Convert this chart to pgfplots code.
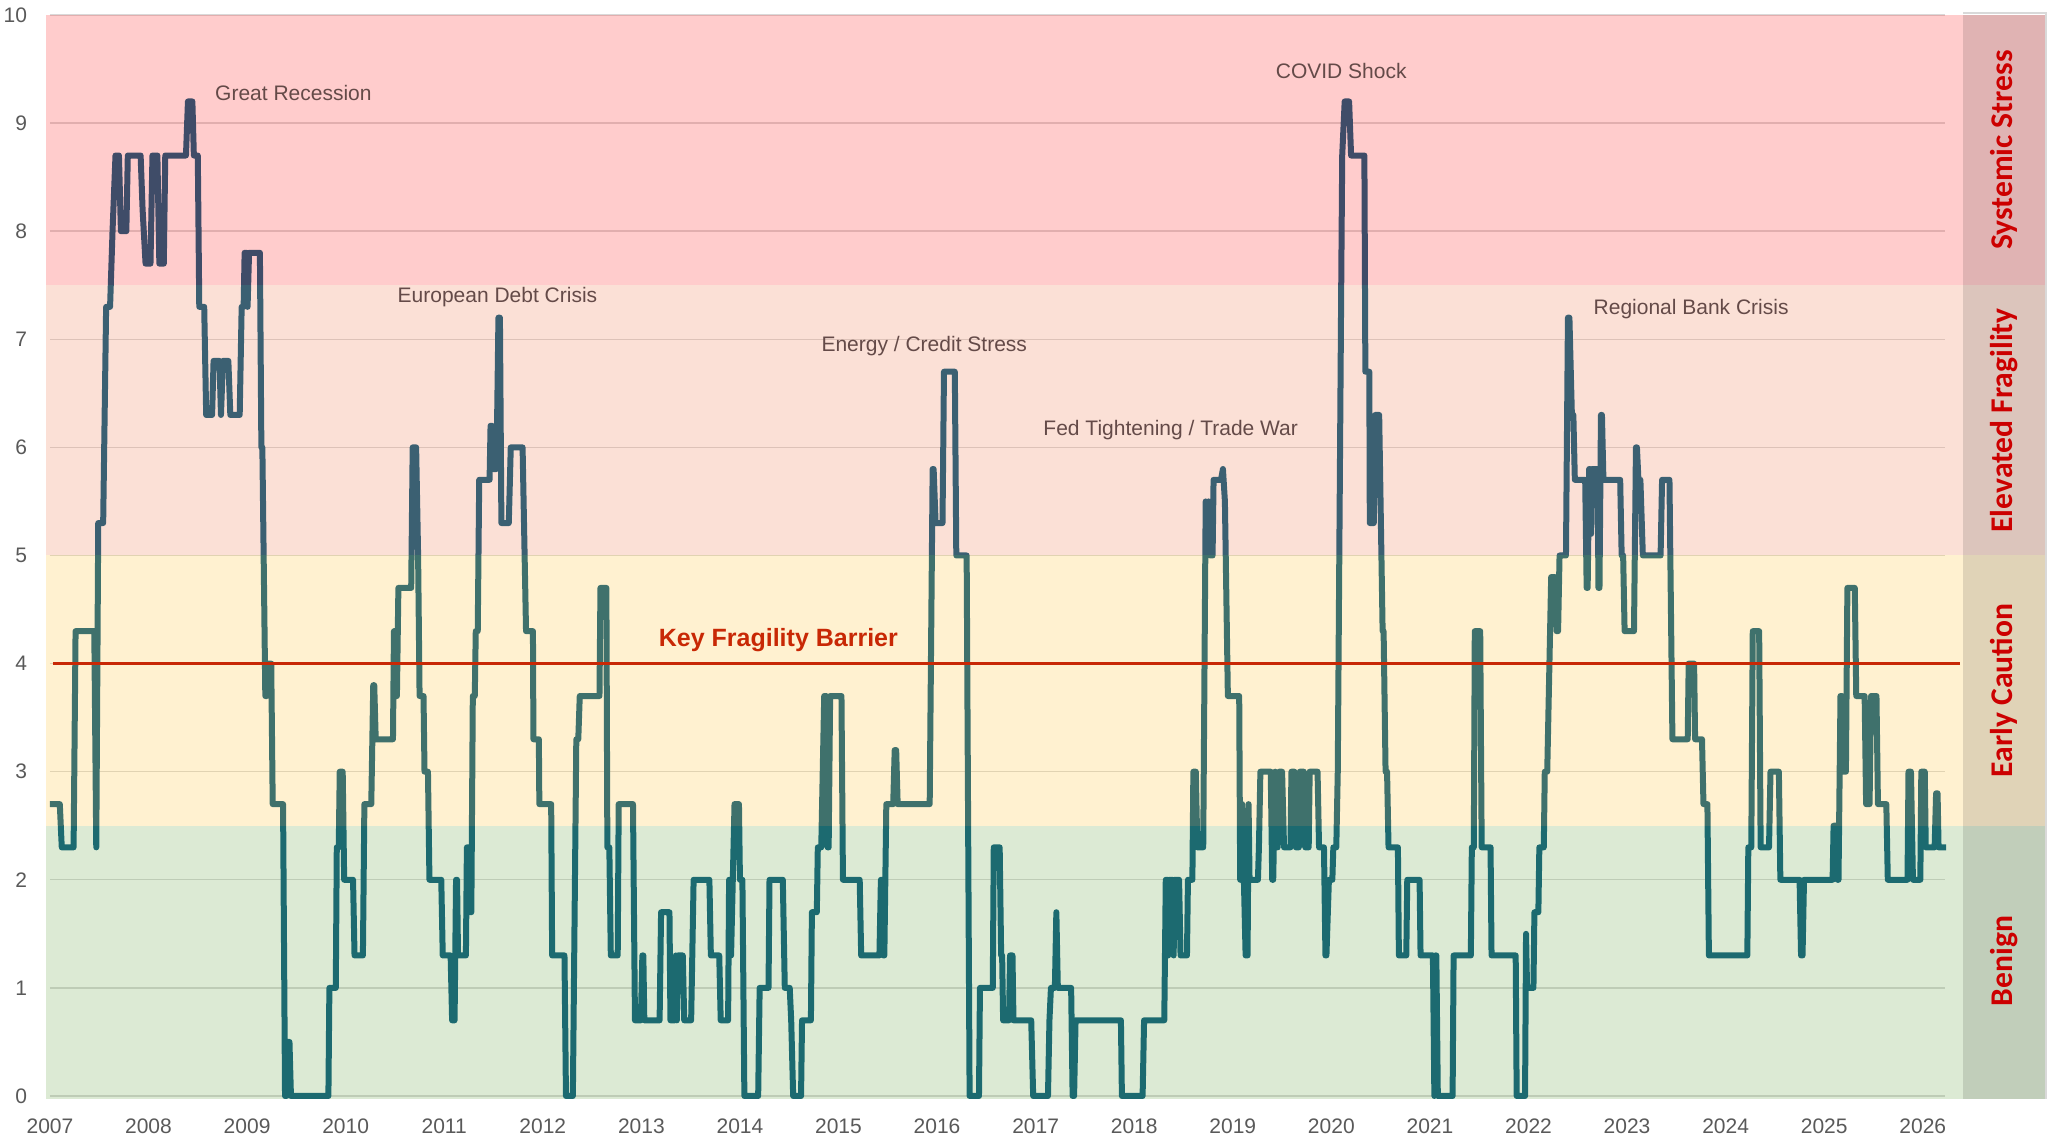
\documentclass[border=0pt]{standalone}
\usepackage{fontspec}
\setmainfont{Liberation Sans}
\newfontfamily\calib{Carlito}
\usepackage{pgfplots}
\usepackage{pgfplotstable}
\pgfplotsset{compat=1.18}
\definecolor{lineblue}{RGB}{10,92,127}
\definecolor{ovRed}{RGB}{255,23,23}
\definecolor{ovOrange}{RGB}{237,114,69}
\definecolor{ovAmber}{RGB}{255,191,41}
\definecolor{ovGreen}{RGB}{96,160,60}
\definecolor{gridg}{RGB}{217,217,217}
\definecolor{barrier}{RGB}{200,40,5}
\definecolor{zonered}{RGB}{204,0,0}
\definecolor{annot}{RGB}{100,74,72}
\definecolor{tickgray}{RGB}{89,89,89}

\pgfplotstableread{
x y
2007.00 2.7
2007.10 2.7
2007.12 2.3
2007.24 2.3
2007.26 4.3
2007.45 4.3
2007.47 2.3
2007.49 5.3
2007.54 5.3
2007.57 7.3
2007.61 7.3
2007.635 8.0
2007.665 8.7
2007.70 8.7
2007.72 8.0
2007.775 8.0
2007.79 8.7
2007.92 8.7
2007.94 8.2
2007.97 7.7
2008.02 7.7
2008.04 8.7
2008.09 8.7
2008.11 7.7
2008.155 7.7
2008.17 8.7
2008.38 8.7
2008.40 9.2
2008.445 9.2
2008.46 8.7
2008.50 8.7
2008.515 7.3
2008.565 7.3
2008.585 6.3
2008.645 6.3
2008.66 6.8
2008.72 6.8
2008.735 6.3
2008.755 6.8
2008.81 6.8
2008.83 6.3
2008.925 6.3
2008.945 7.3
2008.965 7.3
2008.975 7.8
2008.995 7.8
2009.005 7.3
2009.02 7.8
2009.13 7.8
2009.145 6.0
2009.155 6.0
2009.185 3.7
2009.20 3.7
2009.21 4.0
2009.245 4.0
2009.26 2.7
2009.365 2.7
2009.385 0.0
2009.40 0.0
2009.41 0.5
2009.43 0.5
2009.445 0.0
2009.825 0.0
2009.835 1.0
2009.90 1.0
2009.91 2.3
2009.93 2.3
2009.94 3.0
2009.97 3.0
2009.985 2.0
2010.075 2.0
2010.09 1.3
2010.175 1.3
2010.19 2.7
2010.26 2.7
2010.28 3.8
2010.29 3.8
2010.305 3.3
2010.48 3.3
2010.49 4.3
2010.50 4.3
2010.51 3.7
2010.52 3.7
2010.535 4.7
2010.665 4.7
2010.68 6.0
2010.715 6.0
2010.735 5.0
2010.75 3.7
2010.79 3.7
2010.80 3.0
2010.835 3.0
2010.85 2.0
2010.97 2.0
2010.985 1.3
2011.065 1.3
2011.08 0.7
2011.105 0.7
2011.12 2.0
2011.13 2.0
2011.14 1.3
2011.22 1.3
2011.23 2.3
2011.255 2.3
2011.265 1.7
2011.275 1.7
2011.29 3.7
2011.31 3.7
2011.32 4.3
2011.34 4.3
2011.355 5.7
2011.46 5.7
2011.47 6.2
2011.485 6.2
2011.495 5.8
2011.53 5.8
2011.55 7.2
2011.565 7.2
2011.58 5.3
2011.655 5.3
2011.675 6.0
2011.795 6.0
2011.83 4.3
2011.90 4.3
2011.905 3.3
2011.96 3.3
2011.965 2.7
2012.085 2.7
2012.095 1.3
2012.22 1.3
2012.235 0.0
2012.305 0.0
2012.34 3.3
2012.36 3.3
2012.375 3.7
2012.575 3.7
2012.585 4.7
2012.645 4.7
2012.655 2.3
2012.675 2.3
2012.69 1.3
2012.76 1.3
2012.77 2.7
2012.915 2.7
2012.935 0.7
2012.995 0.7
2013.01 1.3
2013.02 1.3
2013.03 0.7
2013.185 0.7
2013.20 1.7
2013.285 1.7
2013.295 0.7
2013.34 0.7
2013.35 1.3
2013.36 0.7
2013.37 1.3
2013.42 1.3
2013.435 0.7
2013.505 0.7
2013.53 2.0
2013.69 2.0
2013.705 1.3
2013.79 1.3
2013.805 0.7
2013.88 0.7
2013.89 2.0
2013.90 1.3
2013.91 1.3
2013.945 2.7
2013.99 2.7
2014.00 2.0
2014.025 2.0
2014.045 0.0
2014.185 0.0
2014.20 1.0
2014.29 1.0
2014.30 2.0
2014.435 2.0
2014.455 1.0
2014.505 1.0
2014.52 0.7
2014.54 0.0
2014.62 0.0
2014.63 0.7
2014.72 0.7
2014.73 1.7
2014.78 1.7
2014.79 2.3
2014.825 2.3
2014.855 3.7
2014.875 3.7
2014.89 2.3
2014.90 2.3
2014.915 3.7
2015.03 3.7
2015.045 2.0
2015.215 2.0
2015.23 1.3
2015.415 1.3
2015.43 2.0
2015.44 2.0
2015.455 1.3
2015.465 1.3
2015.485 2.7
2015.555 2.7
2015.57 3.2
2015.585 3.2
2015.60 2.7
2015.925 2.7
2015.955 5.8
2015.965 5.8
2015.985 5.3
2016.055 5.3
2016.07 6.7
2016.18 6.7
2016.195 5.0
2016.30 5.0
2016.33 0.0
2016.425 0.0
2016.435 1.0
2016.565 1.0
2016.575 2.3
2016.635 2.3
2016.65 1.3
2016.66 1.3
2016.67 0.7
2016.73 0.7
2016.74 1.3
2016.765 1.3
2016.775 0.7
2016.955 0.7
2016.975 0.0
2017.125 0.0
2017.14 0.7
2017.155 1.0
2017.195 1.0
2017.21 1.7
2017.225 1.0
2017.36 1.0
2017.375 0.0
2017.39 0.0
2017.405 0.7
2017.865 0.7
2017.875 0.0
2018.085 0.0
2018.10 0.7
2018.305 0.7
2018.32 2.0
2018.335 2.0
2018.345 1.3
2018.355 2.0
2018.39 2.0
2018.40 1.3
2018.41 2.0
2018.455 2.0
2018.47 1.3
2018.535 1.3
2018.545 2.0
2018.59 2.0
2018.60 3.0
2018.625 3.0
2018.64 2.3
2018.70 2.3
2018.725 5.5
2018.74 5.0
2018.755 5.5
2018.77 5.0
2018.795 5.0
2018.805 5.7
2018.88 5.7
2018.90 5.8
2018.92 5.5
2018.95 3.7
2019.065 3.7
2019.075 2.0
2019.085 2.7
2019.095 2.7
2019.13 1.3
2019.15 1.3
2019.16 2.7
2019.17 2.0
2019.255 2.0
2019.265 2.3
2019.28 3.0
2019.385 3.0
2019.40 2.0
2019.41 2.0
2019.43 3.0
2019.455 2.3
2019.47 3.0
2019.50 3.0
2019.52 2.3
2019.585 2.3
2019.595 3.0
2019.625 3.0
2019.64 2.3
2019.67 2.3
2019.68 3.0
2019.72 3.0
2019.735 2.3
2019.77 2.3
2019.78 3.0
2019.86 3.0
2019.875 2.3
2019.925 2.3
2019.94 1.3
2019.95 1.3
2019.975 2.0
2020.01 2.0
2020.02 2.3
2020.05 2.3
2020.065 3.0
2020.10 7.5
2020.11 8.7
2020.135 9.2
2020.18 9.2
2020.20 8.7
2020.335 8.7
2020.345 6.7
2020.385 6.7
2020.39 5.3
2020.43 5.3
2020.445 6.3
2020.485 6.3
2020.52 4.3
2020.53 4.3
2020.55 3.0
2020.565 3.0
2020.58 2.3
2020.675 2.3
2020.685 1.3
2020.76 1.3
2020.77 2.0
2020.895 2.0
2020.905 1.3
2021.03 1.3
2021.045 0.0
2021.055 1.3
2021.065 1.3
2021.08 0.0
2021.23 0.0
2021.24 1.3
2021.415 1.3
2021.425 2.3
2021.445 2.3
2021.455 4.3
2021.51 4.3
2021.525 2.3
2021.615 2.3
2021.625 1.3
2021.87 1.3
2021.88 0.0
2021.965 0.0
2021.975 1.5
2021.985 1.0
2022.05 1.0
2022.06 1.7
2022.10 1.7
2022.11 2.3
2022.155 2.3
2022.165 3.0
2022.19 3.0
2022.23 4.8
2022.27 4.8
2022.285 4.3
2022.30 4.3
2022.315 5.0
2022.38 5.0
2022.40 7.2
2022.415 7.2
2022.44 6.3
2022.455 6.3
2022.47 5.7
2022.575 5.7
2022.59 4.7
2022.60 4.7
2022.615 5.8
2022.625 5.8
2022.635 5.2
2022.645 5.8
2022.70 5.8
2022.71 4.7
2022.72 4.7
2022.735 6.3
2022.745 6.3
2022.76 5.7
2022.93 5.7
2022.945 5.0
2022.96 5.0
2022.975 4.3
2023.07 4.3
2023.09 6.0
2023.10 6.0
2023.115 5.7
2023.135 5.7
2023.16 5.0
2023.34 5.0
2023.355 5.7
2023.43 5.7
2023.46 3.3
2023.615 3.3
2023.625 4.0
2023.68 4.0
2023.69 3.3
2023.76 3.3
2023.775 2.7
2023.815 2.7
2023.83 1.3
2024.22 1.3
2024.23 2.3
2024.26 2.3
2024.275 4.3
2024.34 4.3
2024.355 2.3
2024.44 2.3
2024.455 3.0
2024.54 3.0
2024.555 2.0
2024.75 2.0
2024.765 1.3
2024.78 1.3
2024.795 2.0
2025.085 2.0
2025.095 2.5
2025.12 2.5
2025.135 2.0
2025.145 2.0
2025.165 3.7
2025.18 3.7
2025.19 3.0
2025.22 3.0
2025.235 4.7
2025.31 4.7
2025.325 3.7
2025.41 3.7
2025.425 2.7
2025.46 2.7
2025.475 3.7
2025.53 3.7
2025.545 2.7
2025.63 2.7
2025.645 2.0
2025.845 2.0
2025.855 3.0
2025.88 3.0
2025.90 2.0
2025.975 2.0
2025.985 3.0
2026.02 3.0
2026.03 2.3
2026.12 2.3
2026.135 2.8
2026.15 2.8
2026.16 2.3
2026.236 2.3
}\fragility

\begin{document}
\begin{tikzpicture}
\useasboundingbox (0,0) rectangle (1024.5pt,572pt);
\begin{axis}[
  at={(23pt,24pt)}, anchor=south west,
  scale only axis, width=999.5pt, height=540.5pt,
  xmin=2006.96, xmax=2027.24, ymin=0, ymax=10,
  axis line style={draw=none},
  major tick length=0pt,
  tick style={draw=none},
  xtick={2007,2008,...,2026},
  ytick={0,1,...,10},
  /pgf/number format/assume math mode=true,
  /pgf/number format/1000 sep={},
  tick label style={font=\fontsize{10.5}{12}\selectfont, text=tickgray},
  yticklabel style={anchor=east, xshift=-6pt},
  xticklabel style={anchor=north, yshift=-8pt},
  clip=false,
]
\pgfplotsinvokeforeach{0,1,...,10}{
  \draw[gridg, line width=0.7pt] (axis cs:2007,#1) -- (axis cs:2026.23,#1);
}
\addplot[lineblue, line width=3pt, line join=round, mark=none] table[x=x,y=y] {\fragility};

\fill[ovGreen, fill opacity=0.22] (axis cs:2006.96,-0.03) rectangle (axis cs:2027.24,2.5);
\fill[ovAmber, fill opacity=0.22] (axis cs:2006.96,2.5) rectangle (axis cs:2027.24,5);
\fill[ovOrange, fill opacity=0.22] (axis cs:2006.96,5) rectangle (axis cs:2027.24,7.5);
\fill[ovRed, fill opacity=0.22] (axis cs:2006.96,7.5) rectangle (axis cs:2027.24,10);
\fill[black, fill opacity=0.12] (axis cs:2026.41,-0.03) rectangle (axis cs:2027.24,10);
\draw[black!15, line width=0.8pt] (axis cs:2026.41,10.02) -- (axis cs:2027.25,10.02) -- (axis cs:2027.25,-0.03);

\draw[barrier, line width=1.5pt] (axis cs:2007.03,4) -- (axis cs:2026.38,4);

\node[annot, font=\fontsize{10.5}{12}\selectfont] at (axis cs:2009.47,9.28) {Great Recession};
\node[annot, font=\fontsize{10.5}{12}\selectfont] at (axis cs:2011.54,7.39) {European Debt Crisis};
\node[annot, font=\fontsize{10.5}{12}\selectfont] at (axis cs:2015.87,6.94) {Energy / Credit Stress};
\node[annot, font=\fontsize{10.5}{12}\selectfont] at (axis cs:2018.37,6.16) {Fed Tightening / Trade War};
\node[annot, font=\fontsize{10.5}{12}\selectfont] at (axis cs:2020.10,9.48) {COVID Shock};
\node[annot, font=\fontsize{10.5}{12}\selectfont] at (axis cs:2023.65,7.28) {Regional Bank Crisis};
\node[barrier, font=\fontsize{12.5}{14}\selectfont\bfseries] at (axis cs:2014.39,4.22) {Key Fragility Barrier};

\node[zonered, rotate=90, font=\calib\fontsize{15.8}{18}\selectfont\bfseries] at (axis cs:2026.825,8.75) {Systemic Stress};
\node[zonered, rotate=90, font=\calib\fontsize{15.8}{18}\selectfont\bfseries] at (axis cs:2026.825,6.25) {Elevated Fragility};
\node[zonered, rotate=90, font=\calib\fontsize{15.8}{18}\selectfont\bfseries] at (axis cs:2026.825,3.75) {Early Caution};
\node[zonered, rotate=90, font=\calib\fontsize{15.8}{18}\selectfont\bfseries] at (axis cs:2026.825,1.25) {Benign};
\end{axis}
\end{tikzpicture}
\end{document}
